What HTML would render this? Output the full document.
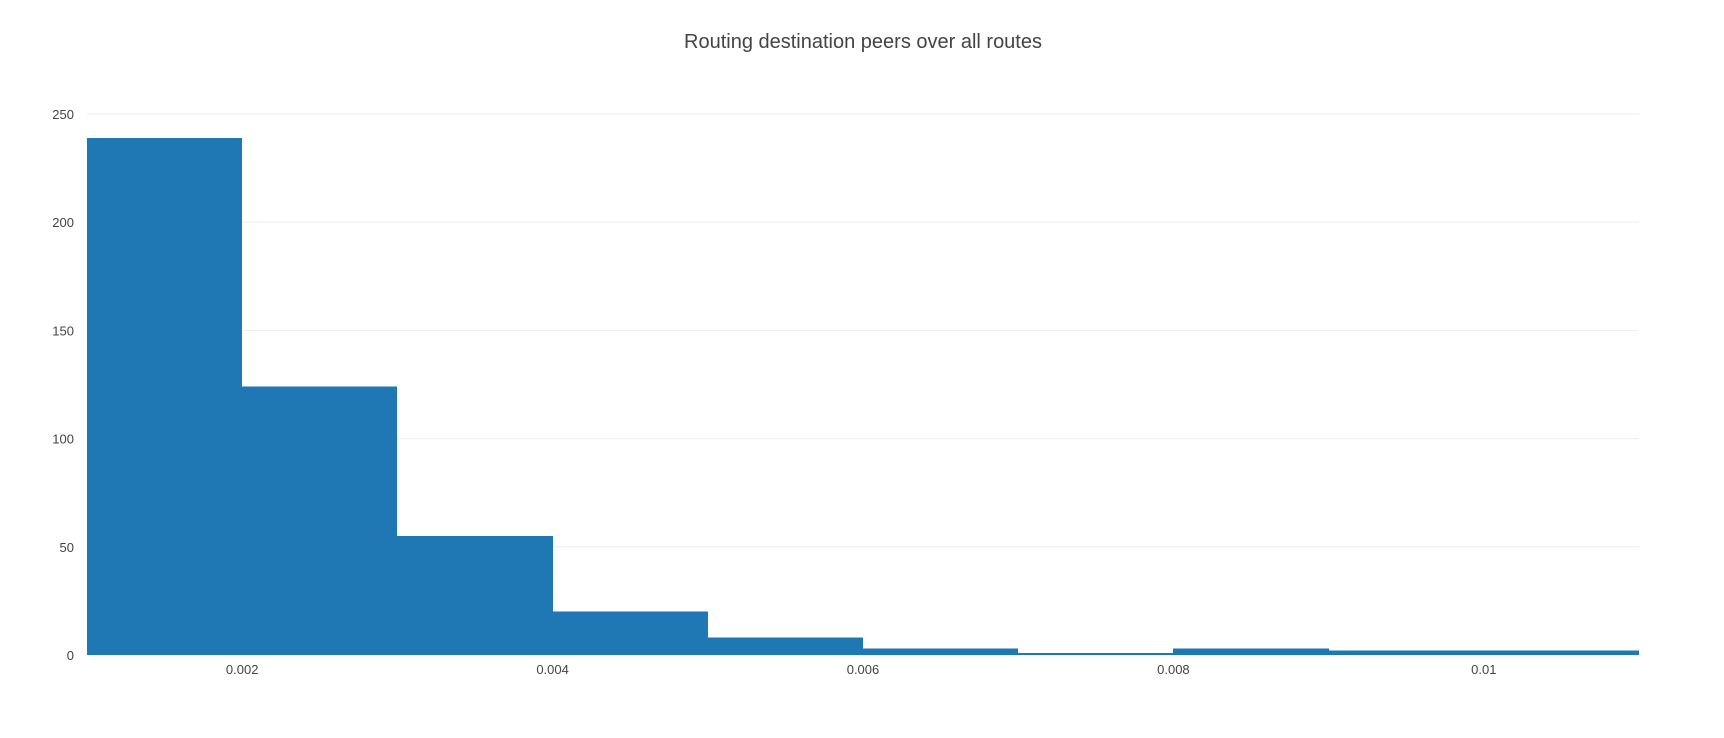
<!DOCTYPE html>
<html><head><meta charset="utf-8"><style>
body{margin:0;background:#fff;}
svg{display:block;font-family:"Liberation Sans","DejaVu Sans",sans-serif;}
</style></head><body>
<svg id="chart" width="1724" height="738">
<text x="863" y="48" text-anchor="middle" font-size="20" fill="#444">Routing destination peers over all routes</text>
<g id="grid"></g><g id="bars" shape-rendering="crispEdges"></g><g id="xt"></g><g id="yt"></g>
</svg>
<script>
const binStarts=[0.001,0.002,0.003,0.004,0.005,0.006,0.007,0.008,0.009,0.010];
const counts=[239,124,55,20,8,3,1,3,2,2];
const binWidth=0.001;
const xTicks=[0.002,0.004,0.006,0.008,0.01];
const xTickLabels=["0.002","0.004","0.006","0.008","0.01"];
const yTicks=[0,50,100,150,200,250];
const X0=87,X1=1639,Y0=655,Y1=114;
const xs=v=>X0+(v-0.001)/(0.011-0.001)*(X1-X0);
const ys=v=>Y0-(v/250)*(Y0-Y1);
const NS="http://www.w3.org/2000/svg";
function mk(t,a,p){const e=document.createElementNS(NS,t);for(const k in a)e.setAttribute(k,a[k]);p.appendChild(e);return e;}
const g=document.getElementById('grid'),b=document.getElementById('bars'),xt=document.getElementById('xt'),yt=document.getElementById('yt');
yTicks.forEach(v=>{
 if(v>0){const l=mk('line',{x1:X0,x2:X1,y1:ys(v),y2:ys(v),stroke:'#eee','stroke-width':1},g);
 
 }
 const t=mk('text',{x:X0-13,y:ys(v)+5,'text-anchor':'end','font-size':13,fill:'#444'},yt);
 t.textContent=v;
 
 
});
counts.forEach((c,i)=>{
 const x=Math.round(xs(binStarts[i])),x2=Math.round(xs(binStarts[i]+binWidth));
 const r=mk('rect',{x:x,y:ys(c),width:x2-x,height:ys(0)-ys(c),fill:'#1f77b4'},b);
 
 
});
xTicks.forEach((v,i)=>{
 const t=mk('text',{x:xs(v),y:Y0+19,'text-anchor':'middle','font-size':13,fill:'#444'},xt);
 t.textContent=xTickLabels[i];
 
 
});
</script>
</body></html>
